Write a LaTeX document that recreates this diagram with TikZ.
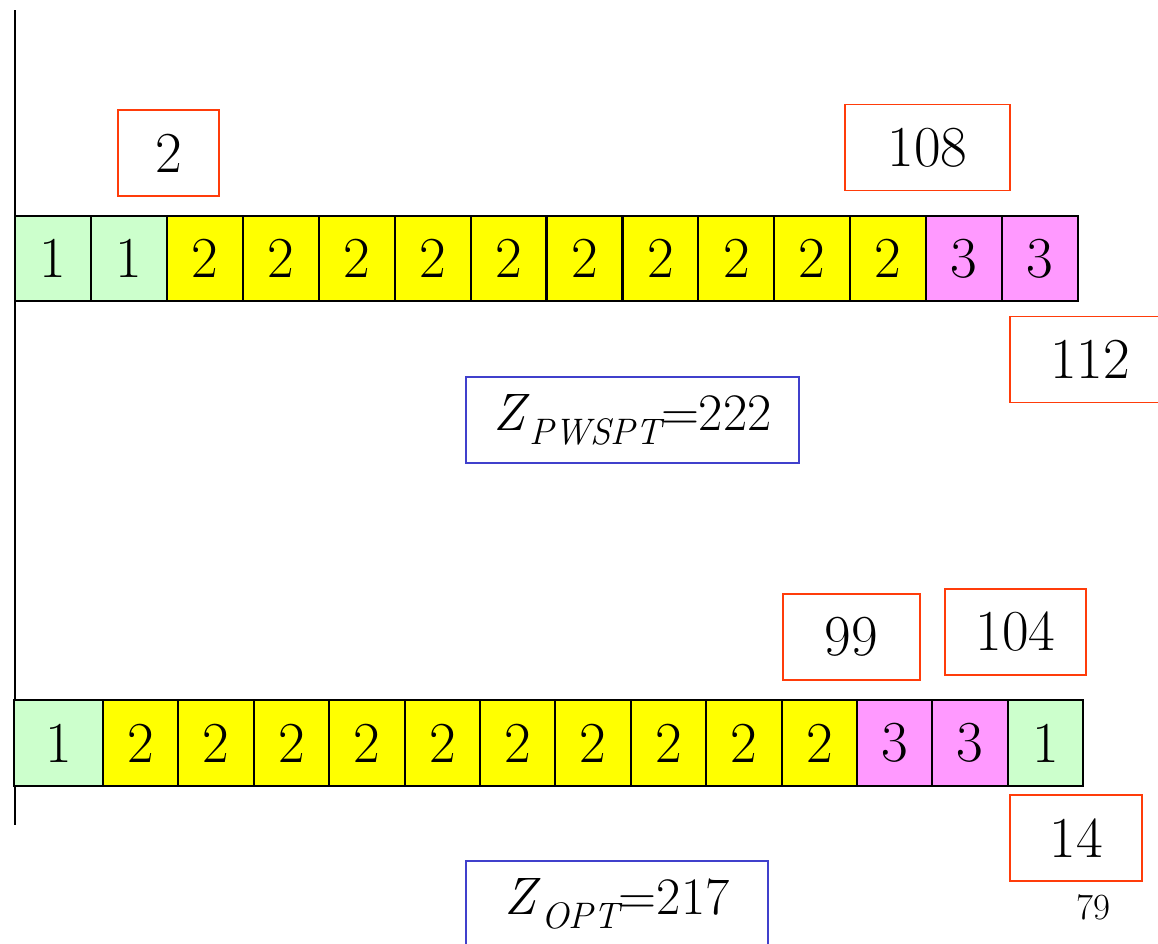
\documentclass[tikz,border=0pt]{standalone}
\usepackage{fontspec}
\usetikzlibrary{positioning}
\definecolor{grn}{RGB}{204,255,204}
\definecolor{ylw}{RGB}{255,255,0}
\definecolor{pnk}{RGB}{255,153,255}
\definecolor{fin}{RGB}{255,60,10}
\definecolor{obj}{RGB}{64,64,204}
\tikzset{
  cell/.style={draw=black,line width=1.2pt,minimum width=1.5186cm,inner sep=0pt,
    outer sep=0pt,font=\fontsize{33}{36}\selectfont},
  done/.style={draw=fin,line width=1.1pt,minimum height=1.72cm,inner sep=0pt,
    font=\fontsize{33}{36}\selectfont},
  tot/.style={draw=obj,line width=1pt,minimum height=1.72cm,inner sep=0pt,
    font=\fontsize{30}{34}\selectfont},
}
\newcommand{\zsub}[1]{\raisebox{-0.6ex}{\fontsize{21}{21}\selectfont\itshape #1}}

\begin{document}
\begin{tikzpicture}[x=0.02cm,y=-0.02cm]
  \useasboundingbox (0,0) rectangle (1158,943);
  \clip (0,0) rectangle (1158,943);
  % time axis
  \coordinate (ax0) at (15,10);
  \coordinate (ax1) at (15,825);
  \draw[line width=1.1pt] (ax0) -- (ax1);
  % PWSPT sequence
  \foreach \v/\c [count=\i] in {1/grn,1/grn,2/ylw,2/ylw,2/ylw,2/ylw,2/ylw,2/ylw,
      2/ylw,2/ylw,2/ylw,2/ylw,3/pnk,3/pnk}
    \node[cell,fill=\c,minimum height=1.7cm] (t\i) at ({15+75.93*(\i-0.5)},258.5) {\v};
  \node[done,minimum width=2.02cm] (fin2)   at (168.5,153)  {2};
  \node[done,minimum width=3.3cm]  (fin108) at (927.5,147.5){108};
  \node[done,minimum width=3.2cm]  (fin112) at (1090,359.5) {112};
  \node[tot,minimum width=6.66cm]  (zpw)    at (632.5,420)
    {\textit{Z}\zsub{PWSPT}=222};
  % optimal sequence
  \node[cell,fill=grn,minimum width=1.78cm,minimum height=1.72cm] (b1) at (58.5,743) {1};
  \foreach \v/\c [count=\i from 2] in {2/ylw,2/ylw,2/ylw,2/ylw,2/ylw,2/ylw,2/ylw,
      2/ylw,2/ylw,2/ylw,3/pnk,3/pnk,1/grn}
    \node[cell,fill=\c,minimum width=1.508cm,minimum height=1.72cm] (b\i)
      at ({103+75.4*(\i-1.5)},743) {\v};
  \node[done,minimum width=2.74cm] (fin99)  at (851.5,637)  {99};
  \node[done,minimum width=2.82cm] (fin104) at (1015.5,632) {104};
  \node[done,minimum width=2.64cm] (fin14)  at (1076,838)   {14};
  \node[tot,minimum width=6.04cm]  (zopt)   at (617,904)
    {\textit{Z}\zsub{OPT}=217};
  \node[font=\fontsize{21}{24}\selectfont,inner sep=0pt] (pg) at (1093,907) {79};
\end{tikzpicture}
\end{document}
